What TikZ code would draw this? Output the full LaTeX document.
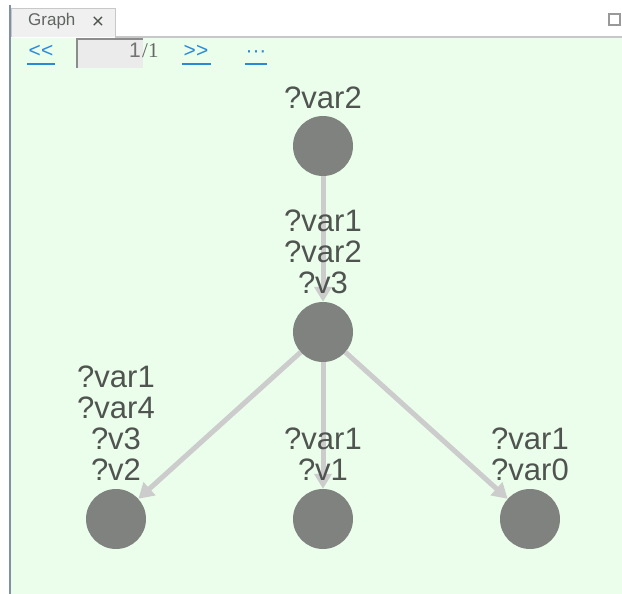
\documentclass[tikz,border=0pt]{standalone}
\usepackage{fontspec}
\setmainfont{Liberation Sans}
\newfontfamily\serifui{Liberation Serif}
\usetikzlibrary{arrows.meta}
\definecolor{panelgreen}{RGB}{235,253,235}
\definecolor{vertexgray}{RGB}{127,130,126}
\definecolor{edgegray}{RGB}{204,204,204}
\definecolor{labelgray}{RGB}{80,84,80}
\definecolor{tabgray}{RGB}{240,240,240}
\definecolor{tabline}{RGB}{200,200,200}
\definecolor{linkblue}{RGB}{43,138,216}
\definecolor{frameblue}{RGB}{128,144,166}
\tikzset{
  vertex/.style={circle, fill=vertexgray, draw=none, minimum size=60pt, inner sep=0pt},
  edge/.style={draw=edgegray, line width=5pt, -{Triangle[width=17pt,length=15pt]}},
  vlabel/.style={anchor=south, align=center, inner sep=0pt, text=labelgray,
    font=\fontsize{31}{31}\selectfont},
  navlink/.style={text=linkblue, inner sep=0pt, anchor=base, font=\fontsize{21}{21}\selectfont},
  navline/.style={draw=linkblue, line width=1.3pt}
}
\begin{document}
\begin{tikzpicture}[x=1pt, y=-1pt]
  \useasboundingbox (0,0) rectangle (622,594);
  % window frame and panel
  \fill[white] (0,0) rectangle (622,594);
  \fill[panelgreen] (11,38) rectangle (622,594);
  \draw[tabline, line width=2pt] (115,37) -- (622,37);
  \draw[frameblue, line width=1.5pt] (10,5) -- (10,594);
  % tab
  \draw[fill=tabgray, draw=tabline, line width=1pt] (11,37) -- (11,9) -- (115,9) -- (115,37);
  \node[anchor=base west, inner sep=0pt, text=labelgray!90, font=\fontsize{17}{17}\selectfont] (tabtitle) at (28,26) {Graph};
  \node[inner sep=0pt, text=labelgray, font=\fontsize{21}{21}\selectfont] (tabclose) at (98,23) {×};
  % maximize button
  \draw[fill=white, draw=gray!80, line width=1.8pt] (609,14) rectangle (620,25) node[coordinate] (maxbtn) {};
  % page navigation
  \node[navlink] (prev) at (41,58) {{<}{<}};
  \draw[navline] (27,64) -- (55,64);
  \fill[black!8] (76,38) rectangle (143,68);
  \draw[black!45, line width=2pt] (77,68) -- (77,39) -- (143,39);
  \node[anchor=base east, inner sep=0pt, text=black!55, font=\fontsize{21}{21}\selectfont] (pageno) at (141,58) {1};
  \node[anchor=base west, inner sep=0pt, text=black!60, font=\serifui\fontsize{21}{21}\selectfont] (pagecount) at (142,58) {/1};
  \node[navlink] (next) at (196,58) {{>}{>}};
  \draw[navline] (182,64) -- (211,64);
  \node[navlink] (more) at (256,58) {···};
  \draw[navline] (245,64) -- (267,64);
  % vertices
  \node[vertex] (a) at (323,146) {};
  \node[vertex] (b) at (323,332) {};
  \node[vertex] (c) at (116,519) {};
  \node[vertex] (d) at (323,519) {};
  \node[vertex] (e) at (530,519) {};
  % edges
  \draw[edge] (a) -- (b);
  \draw[edge] (b) -- (c);
  \draw[edge] (b) -- (d);
  \draw[edge] (b) -- (e);
  % vertex labels
  \node[vlabel] (la) at (323,109) {?var2};
  \node[vlabel] (lb) at (323,294) {?var1\\?var2\\?v3};
  \node[vlabel] (lc) at (116,481) {?var1\\?var4\\?v3\\?v2};
  \node[vlabel] (ld) at (323,481) {?var1\\?v1};
  \node[vlabel] (le) at (530,481) {?var1\\?var0};
\end{tikzpicture}
\end{document}
